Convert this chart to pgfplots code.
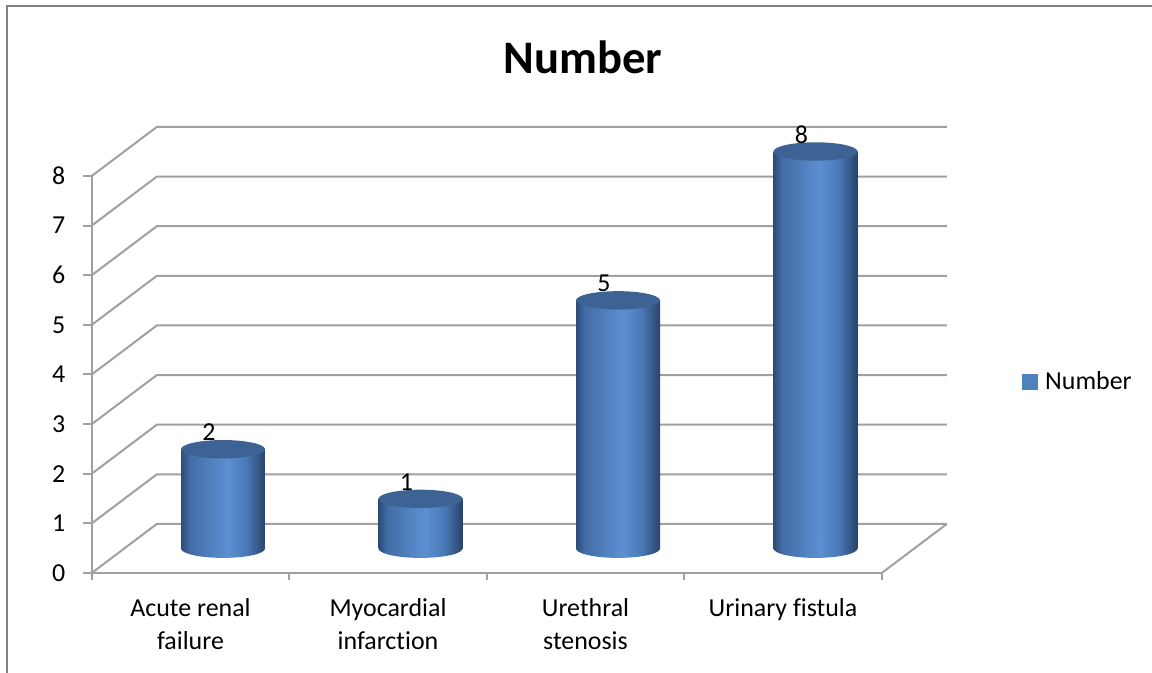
\documentclass[border=0pt]{standalone}
\usepackage{pgfplots}
\pgfplotsset{compat=1.18}
\usepackage{fontspec}
\setmainfont{Carlito}[Ligatures=NoCommon]
\definecolor{gridgray}{RGB}{160,160,160}
\definecolor{framegray}{RGB}{128,128,128}
\definecolor{cdark}{RGB}{44,76,120}
\definecolor{cmidA}{RGB}{66,108,165}
\definecolor{clight}{RGB}{92,144,210}
\definecolor{cmidB}{RGB}{74,120,182}
\definecolor{cdarkB}{RGB}{40,68,106}
\definecolor{ctop}{RGB}{60,99,148}
\definecolor{legblue}{RGB}{79,129,189}
\pgfdeclarehorizontalshading{cyl}{100bp}{color(0bp)=(cdark); color(25bp)=(cdark); color(30bp)=(cmidA); color(52.5bp)=(clight); color(64bp)=(cmidB); color(75bp)=(cdarkB); color(100bp)=(cdarkB)}
\pgfdeclareplotmark{cylbottom}{%
  \pgfpathellipse{\pgfpointorigin}{\pgfqpoint{21bp}{0bp}}{\pgfqpoint{0bp}{4.7bp}}%
  \pgfshadepath{cyl}{0}%
  \pgfusepath{discard}}
\pgfdeclareplotmark{cyltop}{%
  \pgfpathellipse{\pgfpointorigin}{\pgfqpoint{21bp}{0bp}}{\pgfqpoint{0bp}{4.6bp}}%
  \pgfusepathqfill}
\newcommand{\tickfont}{\fontsize{13}{16.5}\selectfont}
\begin{document}
\begin{tikzpicture}
\begin{axis}[
  scale only axis, width=576bp, height=336.5bp,
  xmin=-1.12911, xmax=4.70380, ymin=-2.50882, ymax=11.05290,
  axis lines=none, clip=false,
  /pgf/number format/assume math mode=true,
  legend style={at={(axis cs:4.0456,3.355)}, anchor=west, draw=none, fill=none,
    inner sep=0pt, font=\tickfont, legend cell align=left,
    /tikz/every odd column/.append style={column sep=1.5bp}},
  cylbody/.style={ybar, bar width=0.4253, bar shift=0pt, draw=none, shade, shading=cyl, forget plot},
]
% frame
\draw[framegray, line width=1bp] (rel axis cs:0.00582,0) -- (rel axis cs:0.00582,0.99153) -- (rel axis cs:1,0.99153);
% gridlines: left wall diagonal + back wall
\draw[gridgray, line width=1bp] (axis cs:-0.664557,-0.4937) -- (axis cs:-0.335443,0.4937) -- (axis cs:3.664557,0.4937);
\draw[gridgray, line width=1bp] (axis cs:-0.664557,0.5063) -- (axis cs:-0.335443,1.4937) -- (axis cs:3.664557,1.4937);
\draw[gridgray, line width=1bp] (axis cs:-0.664557,1.5063) -- (axis cs:-0.335443,2.4937) -- (axis cs:3.664557,2.4937);
\draw[gridgray, line width=1bp] (axis cs:-0.664557,2.5063) -- (axis cs:-0.335443,3.4937) -- (axis cs:3.664557,3.4937);
\draw[gridgray, line width=1bp] (axis cs:-0.664557,3.5063) -- (axis cs:-0.335443,4.4937) -- (axis cs:3.664557,4.4937);
\draw[gridgray, line width=1bp] (axis cs:-0.664557,4.5063) -- (axis cs:-0.335443,5.4937) -- (axis cs:3.664557,5.4937);
\draw[gridgray, line width=1bp] (axis cs:-0.664557,5.5063) -- (axis cs:-0.335443,6.4937) -- (axis cs:3.664557,6.4937);
\draw[gridgray, line width=1bp] (axis cs:-0.664557,6.5063) -- (axis cs:-0.335443,7.4937) -- (axis cs:3.664557,7.4937);
\draw[gridgray, line width=1bp] (axis cs:-0.664557,7.5063) -- (axis cs:-0.335443,8.4937) -- (axis cs:3.664557,8.4937);
% floor right edge
\draw[gridgray, line width=1bp] (axis cs:3.335443,-0.4937) -- (axis cs:3.664557,0.4937);
% front axes
\draw[gridgray, line width=1bp] (axis cs:-0.664557,7.5063) -- (axis cs:-0.664557,-0.4937) -- (axis cs:3.335443,-0.4937);
% y ticks and labels
\foreach \v/\yy in {0/-0.4937,1/0.5063,2/1.5063,3/2.5063,4/3.5063,5/4.5063,6/5.5063,7/6.5063,8/7.5063}{
  \edef\temp{\noexpand\draw[gridgray, line width=1bp] (axis cs:-0.664557,\yy) -- ++(-4.5bp,0pt);
    \noexpand\node[anchor=east, inner sep=0pt, font=\noexpand\tickfont] at (axis cs:-0.664557,\yy) [xshift=-13bp] {\v};}
  \temp
}
% x ticks
\foreach \xx in {-0.664557,0.335443,1.335443,2.335443,3.335443}{
  \edef\temp{\noexpand\draw[gridgray, line width=1bp] (axis cs:\xx,-0.4937) -- ++(0pt,-3.5bp);}
  \temp
}
% x labels
\node[anchor=north, inner sep=0pt, align=center, font=\tickfont] at (axis cs:-0.164557,-0.4937) [yshift=-12.5bp] {Acute renal\\failure};
\node[anchor=north, inner sep=0pt, align=center, font=\tickfont] at (axis cs:0.835443,-0.4937) [yshift=-12.5bp] {Myocardial\\infarction};
\node[anchor=north, inner sep=0pt, align=center, font=\tickfont] at (axis cs:1.835443,-0.4937) [yshift=-12.5bp] {Urethral\\stenosis};
\node[anchor=north, inner sep=0pt, align=center, font=\tickfont] at (axis cs:2.835443,-0.4937) [yshift=-12.5bp] {Urinary fistula};
% title
\node[font=\fontsize{23.4}{28}\selectfont\bfseries, inner sep=0pt] at (axis cs:1.8228,9.9043) {Number};
% cylinders
\addplot[only marks, mark=cylbottom, forget plot] coordinates {(0,0) (1,0) (2,0) (3,0)};
\addplot[cylbody] coordinates {(0,2)};
\addplot[cylbody] coordinates {(1,1)};
\addplot[cylbody] coordinates {(2,5)};
\addplot[cylbody] coordinates {(3,8)};
\addplot[only marks, mark=cyltop, mark options={fill=ctop}, forget plot,
  nodes near coords, nodes near coords style={font=\tickfont, anchor=center, inner sep=0pt, xshift=-7bp, yshift=8.5bp, text=black}]
  coordinates {(0,2) (1,1) (2,5) (3,8)};
\addlegendimage{legend image code/.code={\fill[legblue] (0bp,-3.6bp) rectangle (7.5bp,3.6bp);}}
\addlegendentry{Number}
\end{axis}
\pgfresetboundingbox
\path (current axis.south west) rectangle (current axis.north east);
\end{tikzpicture}
\end{document}
